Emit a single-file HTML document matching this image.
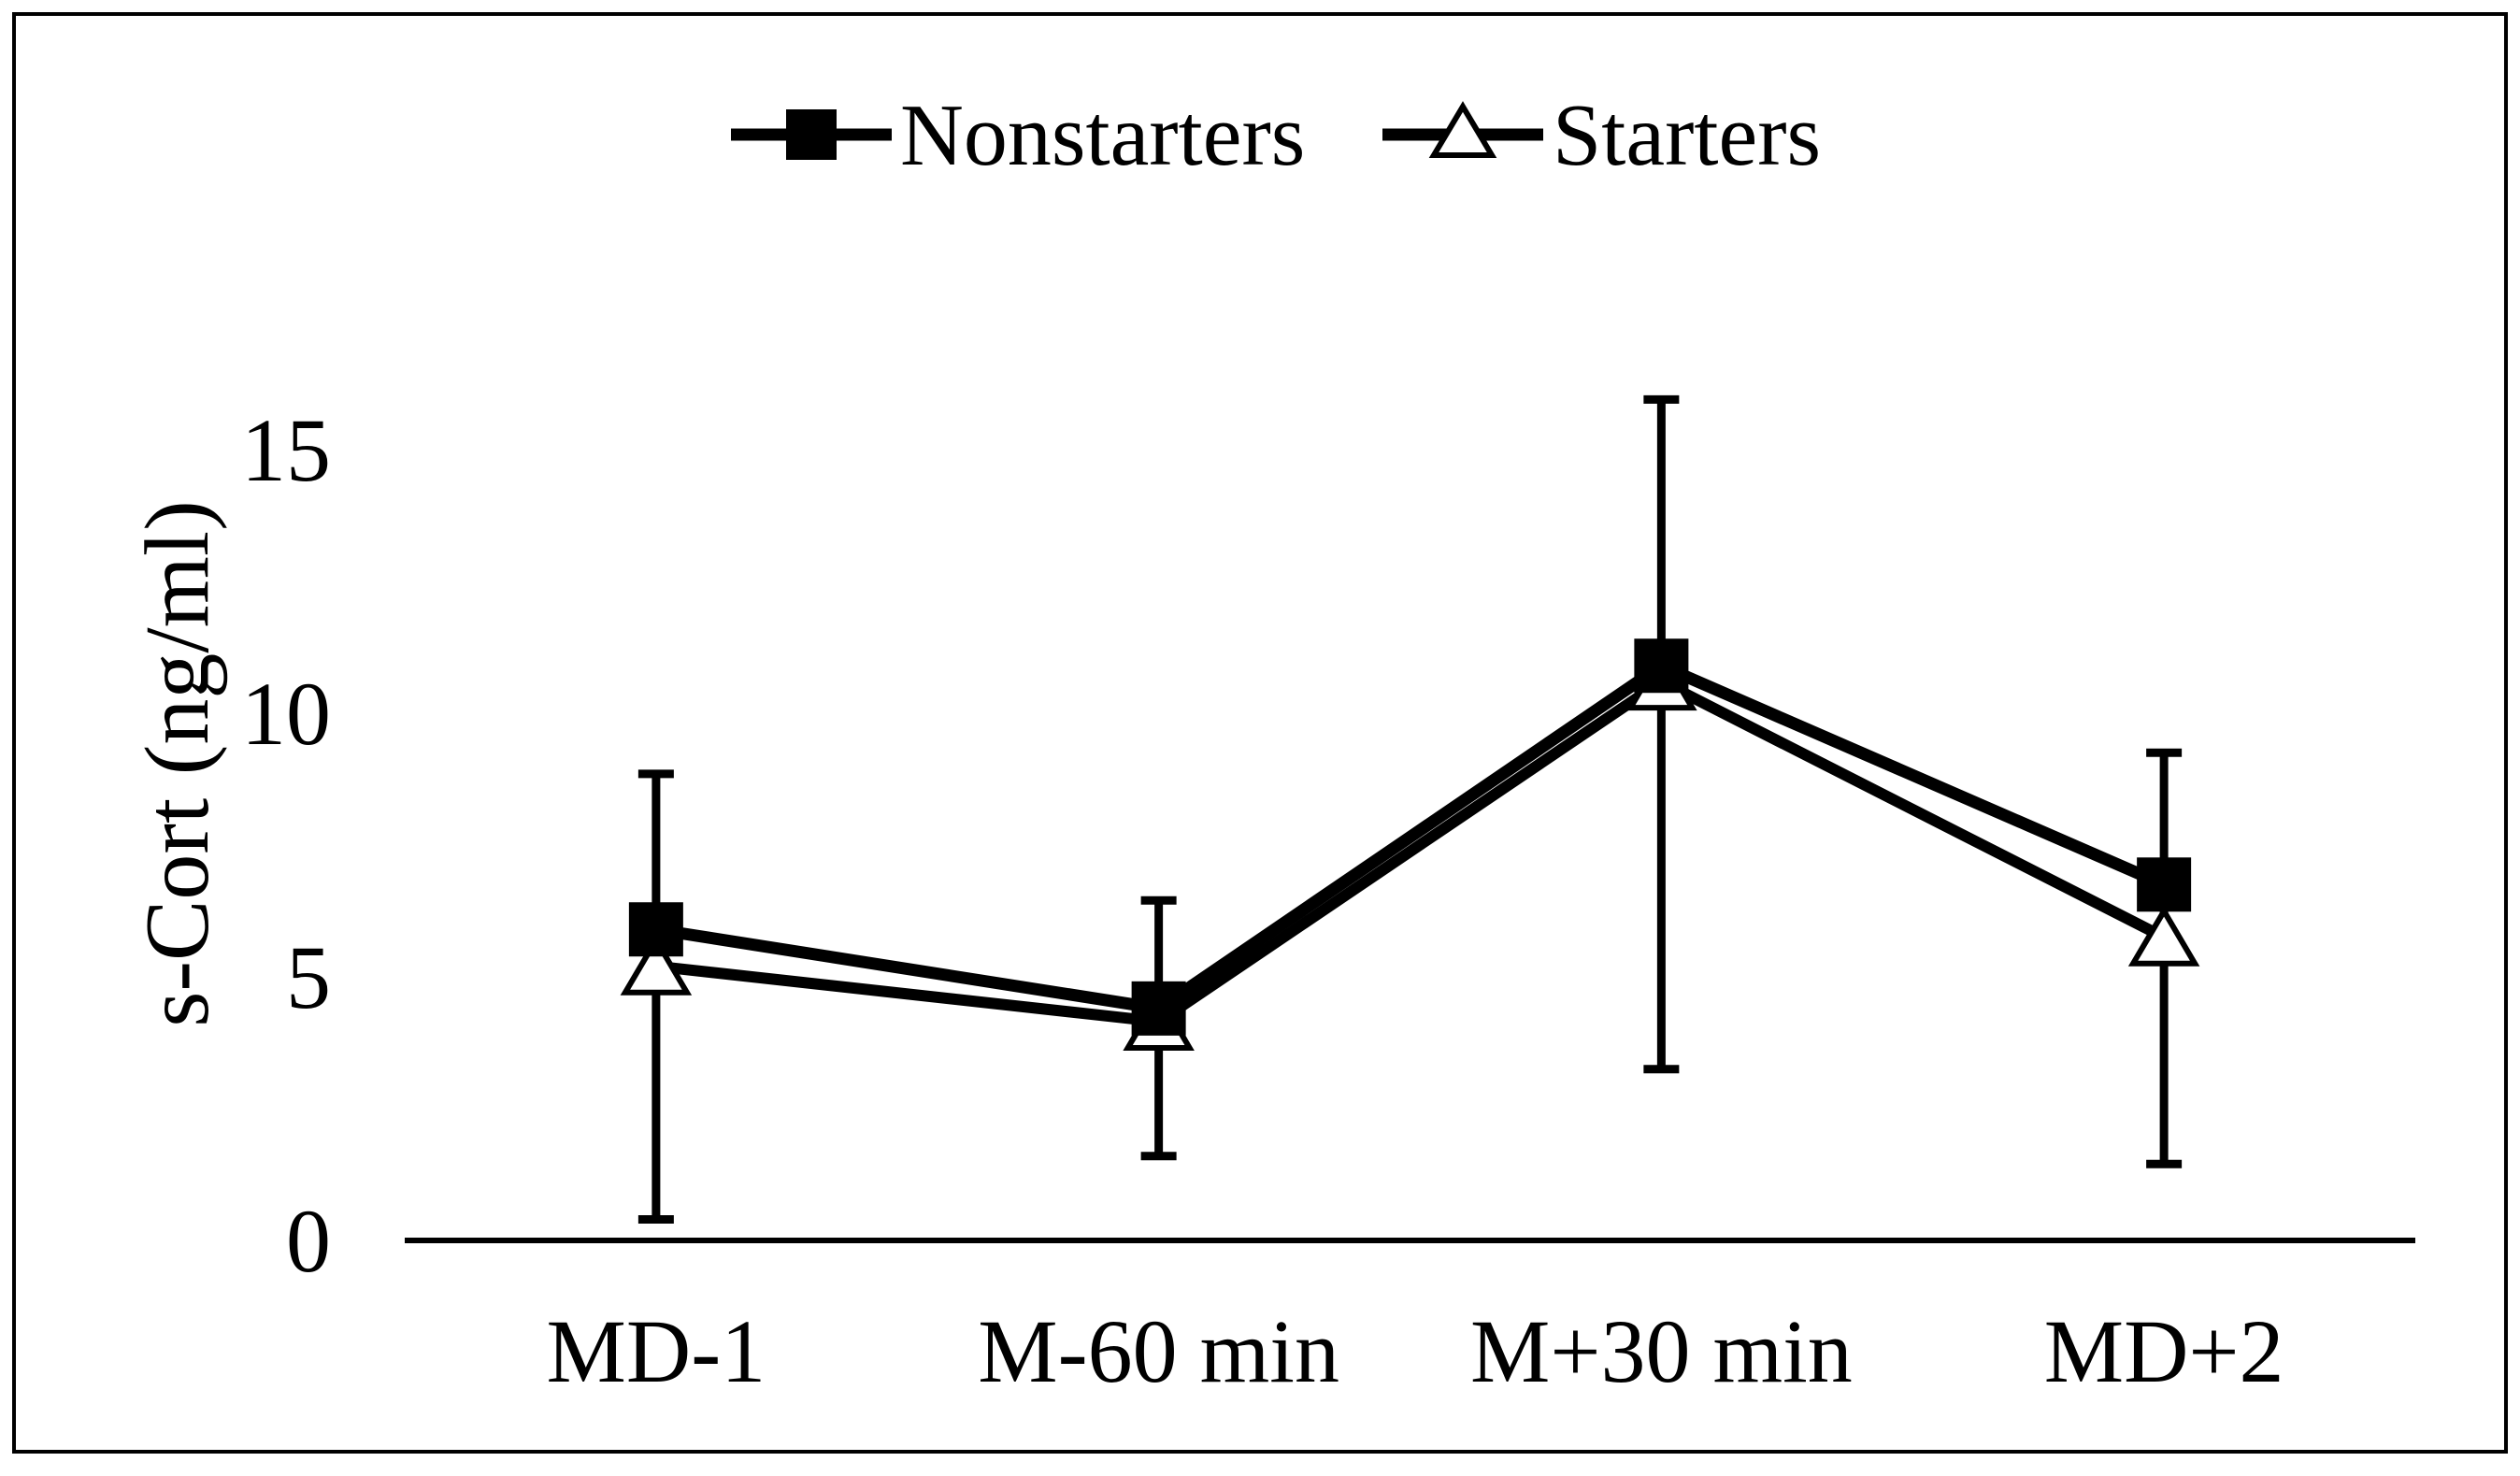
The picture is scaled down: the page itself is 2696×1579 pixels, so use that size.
<!DOCTYPE html>
<html><head><meta charset="utf-8"><style>
body{margin:0;background:#fff}
svg text{font-family:"Liberation Serif",serif;fill:#000}
</style></head><body>
<svg id="chart" width="2696" height="1574" viewBox="0 0 2696 1574" xmlns="http://www.w3.org/2000/svg">
<rect x="15" y="15" width="2666" height="1538" fill="#fff" stroke="#000" stroke-width="4"/>
<g id="legend">
  <g>
    <line x1="782" y1="144" x2="954" y2="144" stroke="#000" stroke-width="13"/>
    <rect x="841" y="117" width="54" height="54" fill="#000"/>
    <text x="963" y="176" font-size="94">Nonstarters</text>
  </g>
  <g>
    <line x1="1479" y1="144" x2="1651" y2="144" stroke="#000" stroke-width="13"/>
    <polygon points="1565,114 1596,166 1534,166" fill="#fff" stroke="#000" stroke-width="6"/>
    <text x="1661" y="176" font-size="94">Starters</text>
  </g>
</g>
<text transform="translate(222,817) rotate(-90)" text-anchor="middle" font-size="98">s-Cort (ng/ml)</text>
<g id="yticks"></g>
<g id="xlabels"></g>
<line x1="433" y1="1327" x2="2584" y2="1327" stroke="#000" stroke-width="6"/>
<g id="marks"></g>
</svg>
<script>
const categories = ["MD-1","M-60 min","M+30 min","MD+2"];
const nonstarters = [5.9, 4.4, 10.9, 6.75];
const starters = [5.2, 4.15, 10.6, 5.75];
const errUpper = [8.85, 6.45, 15.95, 9.25];
const errLower = [0.4, 1.6, 3.25, 1.45];
const yTicks = [0, 5, 10, 15];

const NS = "http://www.w3.org/2000/svg";
const x0 = 433, x1 = 2584;
const yPix = v => 1327 - v * (846 / 15);
const xPix = i => x0 + (x1 - x0) / categories.length * (i + 0.5);
function mk(tag, attrs, parent) {
  const e = document.createElementNS(NS, tag);
  for (const k in attrs) e.setAttribute(k, attrs[k]);
  parent.appendChild(e);
  return e;
}
const yt = document.getElementById('yticks');
yTicks.forEach(t => {
  const e = mk('text', {x: 354, y: yPix(t) + 33, 'text-anchor': 'end', 'font-size': 96}, yt);
  
  
  e.textContent = t;
});
const xl = document.getElementById('xlabels');
categories.forEach((c, i) => {
  const e = mk('text', {x: xPix(i), y: 1478, 'text-anchor': 'middle', 'font-size': 96}, xl);
  
  
  e.textContent = c;
});
const g = document.getElementById('marks');
categories.forEach((c, i) => {
  const x = xPix(i);
  const eb = mk('path', {d: `M${x},${yPix(errUpper[i])}V${yPix(errLower[i])}M${x-19},${yPix(errUpper[i])}H${x+19}M${x-19},${yPix(errLower[i])}H${x+19}`, stroke: '#000', 'stroke-width': 9, fill: 'none'}, g);
  
  
});
const sl = mk('polyline', {points: starters.map((v, i) => xPix(i) + ',' + yPix(v)).join(' '), fill: 'none', stroke: '#000', 'stroke-width': 12, 'stroke-linejoin': 'round'}, g);


const nl = mk('polyline', {points: nonstarters.map((v, i) => xPix(i) + ',' + yPix(v)).join(' '), fill: 'none', stroke: '#000', 'stroke-width': 13, 'stroke-linejoin': 'round'}, g);


starters.forEach((v, i) => {
  const x = xPix(i), y = yPix(v);
  const p = mk('polygon', {points: `${x},${y-28} ${x+33},${y+28} ${x-33},${y+28}`, fill: '#fff', stroke: '#000', 'stroke-width': 6}, g);
  
  
});
nonstarters.forEach((v, i) => {
  const x = xPix(i), y = yPix(v);
  const r = mk('rect', {x: x - 29, y: y - 29, width: 58, height: 58, fill: '#000'}, g);
  
  
});
</script>
</body></html>
